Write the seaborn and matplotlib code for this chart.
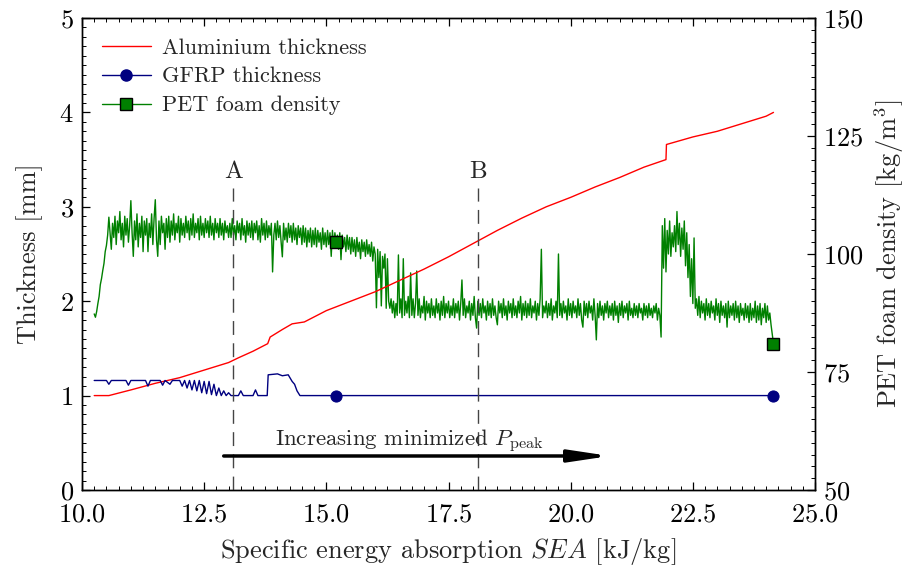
import numpy as np
import pandas as pd
import matplotlib
matplotlib.use("Agg")
import matplotlib.pyplot as plt
from matplotlib.ticker import MultipleLocator, AutoMinorLocator
from matplotlib.lines import Line2D
import seaborn as sns

# ---------------- data ----------------
alu_sea = [10.25, 10.55, 11.0, 11.5, 12.0, 12.5, 13.0, 13.2, 13.5, 13.8, 13.85, 14.1, 14.3,
           14.55, 15.0, 15.5, 16.0, 16.5, 17.0, 17.5, 18.0, 18.5, 19.0, 19.5, 20.0, 20.5,
           21.0, 21.5, 21.95, 21.96, 22.5, 23.0, 23.5, 24.0, 24.15]
alu_t = [1.00, 1.00, 1.06, 1.13, 1.19, 1.27, 1.35, 1.40, 1.47, 1.55, 1.62, 1.70, 1.76,
         1.78, 1.90, 2.00, 2.10, 2.22, 2.34, 2.47, 2.61, 2.75, 2.88, 3.00, 3.10, 3.21,
         3.31, 3.42, 3.50, 3.66, 3.74, 3.80, 3.88, 3.96, 4.00]

gfrp_sea = [10.25, 10.50, 10.55, 10.60, 10.90, 10.95, 11.00, 11.30, 11.35, 11.40, 11.60,
            11.65, 11.70, 11.80, 11.85, 12.00, 12.05, 12.10, 12.15, 12.20, 12.25, 12.30,
            12.35, 12.40, 12.45, 12.50, 12.55, 12.60, 12.65, 12.70, 12.75, 12.80, 12.85,
            12.90, 12.95, 13.00, 13.05, 13.20, 13.25, 13.30, 13.50, 13.55, 13.60, 13.79,
            13.81, 14.00, 14.10, 14.22, 14.30, 14.35, 14.40, 14.46, 15.20, 16.0, 18.0,
            20.0, 22.0, 24.15]
gfrp_t = [1.16, 1.16, 1.12, 1.16, 1.16, 1.11, 1.16, 1.16, 1.10, 1.16, 1.16,
          1.11, 1.16, 1.12, 1.16, 1.16, 1.10, 1.16, 1.08, 1.16, 1.06, 1.16,
          1.05, 1.16, 1.03, 1.15, 1.02, 1.15, 1.01, 1.12, 1.00, 1.08, 1.00,
          1.05, 1.00, 1.03, 1.00, 1.00, 1.05, 1.00, 1.00, 1.06, 1.00, 1.00,
          1.22, 1.23, 1.21, 1.22, 1.15, 1.12, 1.05, 1.00, 1.00, 1.00, 1.00,
          1.00, 1.00, 1.00]

# PET foam density, sampled every 0.025 kJ/kg; each stretch has its start SEA
pet_step = 0.025
pet_rise_start = 10.25
pet_rise = [87.3, 86.6, 87.8, 89.5, 91.0, 93.5, 94.8, 96.5, 98.0, 100.5,
            101.8, 104.0, 107.8]
pet_band1_start = 10.575
pet_band1 = [104.5, 101.0, 106.5, 103.5, 108.0, 102.0, 107.0, 104.5, 109.0, 103.0,
             106.5, 101.5, 108.0, 104.0, 107.5, 102.5, 106.0, 111.3, 104.5, 99.5,
             107.0, 103.0, 108.5, 101.5, 106.5, 103.5, 108.0, 100.5, 107.0, 104.0,
             107.5, 100.5, 106.5, 103.5, 108.5, 102.0, 107.5, 111.5, 103.0, 99.5,
             107.0, 102.0, 108.0, 104.5, 106.5, 101.0, 107.5, 103.5, 108.0, 102.5,
             107.0, 104.0, 108.5, 103.0, 106.5, 104.5, 108.0, 102.5, 107.5, 104.0,
             106.5, 103.5, 108.0, 104.5, 107.0, 103.0, 107.5, 104.0, 108.5, 103.5,
             106.5, 104.5, 107.5, 103.0, 108.0, 104.0, 106.5, 103.5, 107.5, 104.5,
             107.0, 103.5, 108.0, 104.0, 106.5, 103.0, 107.5, 104.5, 106.5, 103.5,
             107.5, 104.0, 106.5, 103.0, 107.0, 104.5, 106.0, 103.5]
pet_band2_start = 13.025
pet_band2 = [106.5, 103.5, 107.5, 104.0, 106.0, 103.0, 107.0, 104.5, 106.5, 103.0,
             107.5, 104.0, 106.0, 102.5, 107.0, 104.0, 106.5, 103.5, 107.0, 103.0,
             106.5, 104.5, 107.0, 103.0, 106.0, 102.5, 107.5, 104.0, 106.5, 103.0,
             107.0, 103.5, 106.0, 104.0, 106.5, 96.2, 104.0, 106.5, 103.0, 107.0,
             103.5, 106.0, 102.5, 99.4, 106.5, 103.0, 105.5, 102.5, 106.5, 103.5,
             106.0, 102.5, 106.5, 103.0, 105.5, 102.0, 106.0, 103.5, 105.5, 102.0,
             106.0, 102.5, 105.5, 101.5, 105.0, 102.5, 105.5, 101.5, 105.0, 102.0,
             105.5, 101.5, 105.0, 102.5, 104.5, 101.0, 105.5, 102.0, 104.5, 101.5,
             105.0, 102.0, 104.5, 99.5, 105.0, 101.5, 104.5, 102.5, 104.0, 101.0,
             104.5, 98.8, 104.0, 101.5, 103.5, 100.5, 104.0, 101.0, 103.5, 100.0,
             103.5, 100.5, 103.0, 99.5, 103.5, 100.5, 102.5, 99.0, 103.0, 100.5,
             102.5, 99.5, 103.0, 100.0, 102.0, 99.5, 102.5, 98.5, 101.5, 100.0]
pet_drop_start = 16.025
pet_drop = [88.6, 101.0, 95.0, 100.5, 89.0, 99.5, 97.0, 100.0, 88.5, 99.0,
            90.0, 88.5]
pet_low1_start = 16.325
pet_low1 = [90.5, 87.5, 90.0, 86.5, 89.5, 87.0, 99.8, 87.5, 90.5, 86.5,
            99.0, 87.0, 90.0, 87.5, 91.0, 86.5, 96.0, 87.0, 90.5, 86.5,
            89.5, 96.4, 87.0, 90.5, 86.5, 89.0, 87.5, 91.0, 86.0, 90.0,
            87.5, 89.5, 86.5, 90.5, 87.0, 89.0, 86.5, 90.5, 87.5, 89.5,
            86.0, 90.0, 87.0, 91.0, 86.5, 89.5, 87.5, 90.0, 86.5, 89.0,
            87.0, 90.5, 86.5, 89.5, 87.5, 90.0, 86.0, 89.5, 94.5, 87.0,
            90.5, 86.5, 89.0, 87.5, 90.0, 86.0, 89.5, 87.0, 91.0, 86.5,
            84.3, 90.0, 87.0, 89.5, 86.5, 90.5, 87.5, 89.0, 86.0, 90.0,
            87.0, 89.5, 86.5, 90.5, 87.0, 89.0, 86.5, 85.0, 90.0, 87.5,
            89.5, 86.5, 90.5, 87.0, 89.0, 86.0, 90.0, 87.5, 89.5, 86.5,
            90.5, 87.0, 89.0, 86.5, 90.0, 87.5, 91.0, 86.0, 89.5, 87.0,
            90.0, 86.5, 89.5, 87.0, 90.5, 86.5, 89.0, 87.5, 90.0, 86.0,
            89.5, 87.0, 90.5, 101.0, 86.5, 89.0, 87.5, 90.0, 86.5, 89.5,
            87.0, 90.5, 86.0, 89.0, 87.5, 90.0, 86.5, 100.0, 87.0, 89.5,
            86.5, 90.0, 87.5, 89.0, 86.0, 90.5, 87.0, 89.5, 86.5, 90.0,
            87.5, 89.0, 86.5, 90.5, 87.0, 89.5, 86.0, 84.5, 90.0, 87.0,
            89.5, 86.5, 90.0, 87.5, 89.0, 86.0, 90.5, 87.0, 81.8, 89.5,
            86.5, 90.0, 87.0, 89.0, 86.0, 89.5, 87.5, 90.0, 86.5, 89.0,
            87.0, 89.5, 86.0, 90.0, 87.0, 89.0, 85.5, 89.5, 87.0, 90.0,
            86.5, 89.0, 87.5, 89.5, 86.0, 90.0, 87.0, 88.5, 86.5, 89.5,
            87.0, 89.0, 86.5, 89.5, 87.5, 88.5, 86.0, 89.5, 87.0, 89.0,
            86.5, 89.5, 87.0, 88.5, 86.5, 89.0, 87.5, 89.5, 86.0, 88.5,
            87.0, 82.4]
pet_high_start = 21.875
pet_high = [106.0, 97.0, 107.5, 96.2, 105.0, 100.0, 107.0, 99.5, 104.5, 101.5,
            106.0, 100.5, 109.0, 102.0, 106.5, 99.5, 105.5, 101.0, 107.0, 97.5]
pet_fall_start = 22.375
pet_fall = [104.5, 95.0, 102.0, 91.0, 99.0, 89.5, 103.4, 88.5]
pet_low2_start = 22.575
pet_low2 = [90.5, 87.0, 91.0, 86.5, 90.0, 87.5, 89.5, 86.0, 90.5, 87.0,
            89.5, 86.5, 90.0, 87.5, 89.0, 86.0, 90.5, 87.0, 89.5, 85.5,
            90.0, 87.0, 89.0, 86.5, 89.5, 84.5, 90.0, 86.5, 89.0, 87.0,
            89.5, 86.0, 90.0, 86.5, 89.0, 85.5, 89.5, 87.0, 88.5, 86.0,
            89.5, 86.5, 89.0, 85.5, 89.5, 86.0, 88.5, 86.5, 90.0, 85.5,
            89.0, 86.0, 89.5, 85.0, 88.5, 86.5, 89.5, 85.5, 89.0, 86.0]
pet_end_start = 24.075
pet_end = [87.5, 85.0, 83.0, 81.0]

marker_sea = [15.2, 24.15]
line_A, line_B = 13.1, 18.1

# ---------------- assemble ----------------
pet_parts = [(pet_rise_start, pet_rise), (pet_band1_start, pet_band1),
             (pet_band2_start, pet_band2), (pet_drop_start, pet_drop),
             (pet_low1_start, pet_low1), (pet_high_start, pet_high),
             (pet_fall_start, pet_fall), (pet_low2_start, pet_low2),
             (pet_end_start, pet_end)]
pet_x = np.concatenate([s + pet_step * np.arange(len(v)) for s, v in pet_parts])
pet_y = np.concatenate([np.asarray(v, float) for s, v in pet_parts])

alu = pd.DataFrame({"SEA": alu_sea, "t": alu_t})
gfrp = pd.DataFrame({"SEA": gfrp_sea, "t": gfrp_t})
pet = pd.DataFrame({"SEA": pet_x, "rho": pet_y})

g_idx = [int(np.argmin(np.abs(np.array(gfrp_sea) - m))) for m in marker_sea]
p_idx = [int(np.argmin(np.abs(pet_x - m))) for m in marker_sea]

# ---------------- style ----------------
sns.set_theme(style="ticks")
plt.rcParams.update({
    "font.family": "serif",
    "font.serif": ["cmr10", "DejaVu Serif"],
    "mathtext.fontset": "cm",
    "axes.formatter.use_mathtext": True,
    "axes.unicode_minus": False,
    "axes.edgecolor": "black",
    "axes.linewidth": 1.0,
    "xtick.color": "black",
    "ytick.color": "black",
})

fig = plt.figure(figsize=(9.08, 5.70), dpi=100)
ax = fig.add_axes([0.0903, 0.1404, 0.8073, 0.8280])
ax2 = ax.twinx()
ax.set_zorder(ax2.get_zorder() + 1)
ax.patch.set_visible(False)

sns.lineplot(data=pet, x="SEA", y="rho", ax=ax2, color="#008000", lw=1.0,
             sort=False, estimator=None, marker="s", markevery=p_idx,
             markersize=8, markerfacecolor="#008000", markeredgecolor="black",
             markeredgewidth=1.0)
sns.lineplot(data=alu, x="SEA", y="t", ax=ax, color="#ff0000", lw=1.0,
             sort=False, estimator=None)
sns.lineplot(data=gfrp, x="SEA", y="t", ax=ax, color="#000080", lw=1.0,
             sort=False, estimator=None, marker="o", markevery=g_idx,
             markersize=8, markerfacecolor="#000080", markeredgecolor="#000080")

for xv, lab in [(line_A, "A"), (line_B, "B")]:
    ax.plot([xv, xv], [0, 3.2], color="#444444", lw=1.0, dashes=(10, 6))
    ax.text(xv, 3.37, lab, ha="center", va="center", fontsize=18)

ax.annotate("", xy=(20.8, 0.36), xytext=(12.9, 0.36),
            arrowprops=dict(arrowstyle="-|>,head_length=1.2,head_width=0.18",
                            lw=2.5, color="black", mutation_scale=20,
                            shrinkA=0, shrinkB=0))
ax.text(16.7, 0.46, r"Increasing minimized $P_{\mathrm{peak}}$",
        ha="center", va="baseline", fontsize=16.5)

ax.set_xlim(10, 25)
ax.set_ylim(0, 5)
ax2.set_ylim(50, 150)

ax.xaxis.set_major_locator(MultipleLocator(2.5))
ax.xaxis.set_minor_locator(AutoMinorLocator(10))
ax.yaxis.set_major_locator(MultipleLocator(1))
ax.yaxis.set_minor_locator(AutoMinorLocator(10))
ax2.yaxis.set_major_locator(MultipleLocator(25))
ax2.yaxis.set_minor_locator(AutoMinorLocator(10))

ax.tick_params(axis="x", which="both", direction="in", top=True, bottom=True)
ax.tick_params(axis="y", which="both", direction="in", left=True, right=False)
ax2.tick_params(axis="y", which="both", direction="in", left=False, right=True)
for a in (ax, ax2):
    a.tick_params(which="major", length=6, width=0.9, labelsize=19, pad=6)
    a.tick_params(which="minor", length=3, width=0.7)
ax.tick_params(axis="x", pad=9)
ax2.tick_params(axis="x", which="both", top=False, bottom=False)

ax.set_xlabel(r"Specific energy absorption $SEA$ [kJ/kg]", fontsize=19, labelpad=7)
ax.set_ylabel("Thickness [mm]", fontsize=19, labelpad=12)
ax2.set_ylabel(r"PET foam density [kg/m$^3$]", fontsize=19, labelpad=6)

handles = [
    Line2D([], [], color="#ff0000", lw=1.0),
    Line2D([], [], color="#000080", lw=1.0, marker="o", markersize=8,
           markerfacecolor="#000080", markeredgecolor="#000080"),
    Line2D([], [], color="#008000", lw=1.0, marker="s", markersize=8,
           markerfacecolor="#008000", markeredgecolor="black"),
]
labels = ["Aluminium thickness", "GFRP thickness", "PET foam density"]
ax.legend(handles, labels, loc="upper left", frameon=False, fontsize=16,
          handlelength=2.2, handletextpad=0.5, borderaxespad=0.5,
          labelspacing=0.42, bbox_to_anchor=(0.0, 1.0))

fig.savefig("out.png", dpi=100)
